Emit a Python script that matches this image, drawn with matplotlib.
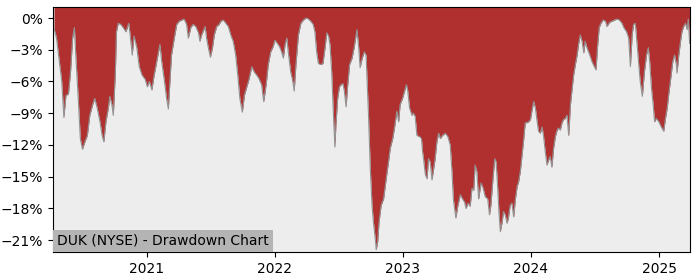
import pandas as pd
import matplotlib
matplotlib.use("Agg")
import matplotlib.pyplot as plt
import matplotlib.dates as mdates
from matplotlib.ticker import MultipleLocator, PercentFormatter

# Drawdown of DUK (NYSE), in percent
dates = [
    "2020-04-11", "2020-04-18", "2020-04-26", "2020-05-03", "2020-05-09", "2020-05-15",
    "2020-05-22", "2020-05-28", "2020-06-03", "2020-06-08", "2020-06-12", "2020-06-19",
    "2020-06-25", "2020-07-01", "2020-07-08", "2020-07-15", "2020-07-22", "2020-07-30",
    "2020-08-05", "2020-08-12", "2020-08-20", "2020-08-26", "2020-08-31", "2020-09-06",
    "2020-09-13", "2020-09-17", "2020-09-23", "2020-09-27", "2020-10-03", "2020-10-06",
    "2020-10-11", "2020-10-18", "2020-10-25", "2020-11-02", "2020-11-10", "2020-11-13",
    "2020-11-20", "2020-11-25", "2020-12-03", "2020-12-10", "2020-12-18", "2020-12-27",
    "2021-01-02", "2021-01-08", "2021-01-15", "2021-01-21", "2021-02-07", "2021-02-12",
    "2021-02-20", "2021-02-26", "2021-03-03", "2021-03-08", "2021-03-12", "2021-03-20",
    "2021-03-27", "2021-04-03", "2021-04-10", "2021-04-17", "2021-04-24", "2021-04-29",
    "2021-05-06", "2021-05-13", "2021-05-20", "2021-05-28", "2021-06-01", "2021-06-06",
    "2021-06-16", "2021-06-20", "2021-06-25", "2021-07-01", "2021-07-07", "2021-07-12",
    "2021-07-19", "2021-07-26", "2021-07-31", "2021-08-07", "2021-08-14", "2021-08-21",
    "2021-08-29", "2021-09-04", "2021-09-11", "2021-09-17", "2021-09-23", "2021-09-30",
    "2021-10-06", "2021-10-12", "2021-10-19", "2021-10-27", "2021-11-03", "2021-11-10",
    "2021-11-16", "2021-11-24", "2021-11-30", "2021-12-07", "2021-12-13", "2021-12-20",
    "2021-12-27", "2022-01-01", "2022-01-08", "2022-01-14", "2022-01-20", "2022-01-25",
    "2022-01-30", "2022-02-04", "2022-02-08", "2022-02-15", "2022-02-21", "2022-02-25",
    "2022-03-02", "2022-03-09", "2022-03-16", "2022-03-23", "2022-03-31", "2022-04-07",
    "2022-04-13", "2022-04-20", "2022-04-25", "2022-04-30", "2022-05-05", "2022-05-12",
    "2022-05-18", "2022-05-24", "2022-05-29", "2022-06-03", "2022-06-07", "2022-06-12",
    "2022-06-17", "2022-06-21", "2022-06-24", "2022-06-29", "2022-07-04", "2022-07-09",
    "2022-07-14", "2022-07-18", "2022-07-23", "2022-07-27", "2022-08-02", "2022-08-09",
    "2022-08-15", "2022-08-23", "2022-08-28", "2022-09-01", "2022-09-07", "2022-09-13",
    "2022-09-18", "2022-09-20", "2022-09-25", "2022-09-30", "2022-10-05", "2022-10-09",
    "2022-10-14", "2022-10-17", "2022-10-21", "2022-10-25", "2022-10-31", "2022-11-07",
    "2022-11-12", "2022-11-16", "2022-11-21", "2022-11-26", "2022-12-03", "2022-12-08",
    "2022-12-15", "2022-12-20", "2022-12-24", "2022-12-31", "2023-01-06", "2023-01-11",
    "2023-01-15", "2023-01-20", "2023-01-27", "2023-01-31", "2023-02-05", "2023-02-10",
    "2023-02-17", "2023-02-23", "2023-02-26", "2023-03-01", "2023-03-06", "2023-03-11",
    "2023-03-15", "2023-03-20", "2023-03-25", "2023-03-30", "2023-04-03", "2023-04-08",
    "2023-04-13", "2023-04-18", "2023-04-24", "2023-05-02", "2023-05-09", "2023-05-16",
    "2023-05-21", "2023-05-25", "2023-06-01", "2023-06-07", "2023-06-14", "2023-06-20",
    "2023-06-26", "2023-06-30", "2023-07-06", "2023-07-12", "2023-07-17", "2023-07-22",
    "2023-07-26", "2023-07-31", "2023-08-05", "2023-08-12", "2023-08-18", "2023-08-24",
    "2023-08-31", "2023-09-05", "2023-09-09", "2023-09-15", "2023-09-20", "2023-09-24",
    "2023-09-28", "2023-10-02", "2023-10-06", "2023-10-11", "2023-10-15", "2023-10-20",
    "2023-10-25", "2023-10-29", "2023-11-03", "2023-11-08", "2023-11-13", "2023-11-18",
    "2023-11-23", "2023-11-27", "2023-12-02", "2023-12-07", "2023-12-11", "2023-12-16",
    "2023-12-21", "2023-12-26", "2023-12-31", "2024-01-04", "2024-01-09", "2024-01-14",
    "2024-01-19", "2024-01-23", "2024-01-28", "2024-02-02", "2024-02-06", "2024-02-11",
    "2024-02-16", "2024-02-21", "2024-02-25", "2024-03-01", "2024-03-06", "2024-03-11",
    "2024-03-16", "2024-03-20", "2024-03-25", "2024-03-30", "2024-04-03", "2024-04-08",
    "2024-04-13", "2024-04-18", "2024-04-23", "2024-04-28", "2024-05-02", "2024-05-07",
    "2024-05-12", "2024-05-16", "2024-05-21", "2024-05-26", "2024-05-31", "2024-06-04",
    "2024-06-09", "2024-06-17", "2024-06-23", "2024-06-30", "2024-07-05", "2024-07-09",
    "2024-07-14", "2024-07-19", "2024-07-25", "2024-08-01", "2024-08-05", "2024-08-13",
    "2024-08-20", "2024-08-26", "2024-09-03", "2024-09-10", "2024-09-17", "2024-09-22",
    "2024-09-30", "2024-10-06", "2024-10-11", "2024-10-16", "2024-10-20", "2024-10-25",
    "2024-10-30", "2024-11-04", "2024-11-08", "2024-11-14", "2024-11-20", "2024-11-26",
    "2024-12-01", "2024-12-05", "2024-12-10", "2024-12-15", "2024-12-19", "2024-12-24",
    "2024-12-31", "2025-01-07", "2025-01-14", "2025-01-19", "2025-01-24", "2025-01-28",
    "2025-02-02", "2025-02-09", "2025-02-14", "2025-02-19", "2025-02-21", "2025-02-26",
    "2025-03-03", "2025-03-07", "2025-03-12", "2025-03-17", "2025-03-22", "2025-03-25",
    "2025-03-29",
]
drawdown = [
    -1.0, -1.9, -4.1, -6.0, -9.4, -7.3, -7.2, -5.1, -1.9, -0.9, -3.5, -7.6,
    -11.4, -12.4, -11.7, -11.1, -9.2, -8.2, -7.6, -8.5, -9.8, -11.1, -11.7, -9.8,
    -8.5, -7.4, -8.2, -9.2, -5.1, -1.3, -0.5, -0.6, -0.9, -1.3, -0.5, -1.3,
    -3.5, -1.7, -2.8, -4.6, -5.4, -5.8, -6.5, -6.0, -6.8, -5.5, -2.5, -4.1,
    -6.0, -7.6, -8.6, -5.7, -3.5, -1.9, -0.6, -0.3, -0.2, -0.1, -0.6, -1.9,
    -0.9, -0.6, -0.8, -1.4, -2.2, -1.6, -0.8, -1.9, -2.8, -3.7, -2.8, -1.6,
    -0.8, -0.6, -0.3, -0.2, -0.5, -0.8, -1.7, -2.2, -3.5, -5.4, -7.6, -8.9,
    -7.3, -6.6, -5.8, -4.6, -5.1, -5.4, -5.7, -6.3, -7.9, -6.3, -4.4, -3.2,
    -2.7, -2.1, -2.4, -2.7, -3.2, -3.8, -2.5, -1.9, -3.2, -5.1, -6.0, -6.9,
    -4.4, -1.6, -0.5, -0.2, 0.0, -0.1, -0.3, -0.6, -1.3, -3.2, -4.3, -4.4,
    -4.3, -2.8, -1.4, -1.7, -2.5, -5.1, -9.2, -12.2, -10.1, -7.6, -6.5, -6.3,
    -6.2, -6.9, -8.4, -6.6, -4.4, -3.8, -2.8, -1.1, -2.8, -4.7, -3.8, -3.2,
    -3.5, -5.1, -9.2, -14.2, -17.7, -19.3, -20.8, -21.9, -21.2, -19.3, -17.7, -17.1,
    -15.8, -14.8, -13.6, -12.3, -11.4, -10.4, -8.8, -9.8, -8.2, -7.6, -6.9, -6.3,
    -6.9, -8.5, -9.2, -9.0, -9.3, -11.1, -11.2, -11.4, -12.6, -13.3, -14.8, -15.2,
    -13.3, -13.6, -15.3, -14.2, -13.3, -11.7, -10.9, -11.4, -11.1, -10.9, -11.2, -12.0,
    -14.5, -17.1, -18.9, -17.7, -16.7, -17.1, -17.4, -18.0, -17.5, -17.8, -16.1, -16.3,
    -13.9, -14.5, -17.1, -15.6, -16.1, -16.9, -17.1, -18.6, -17.7, -15.2, -13.3, -13.6,
    -15.8, -18.3, -20.2, -19.3, -18.3, -18.6, -19.4, -18.9, -17.7, -17.5, -18.8, -17.1,
    -15.9, -15.5, -14.5, -12.9, -11.7, -9.9, -9.9, -9.8, -9.6, -8.8, -7.9, -8.5,
    -9.8, -10.7, -10.9, -10.3, -11.1, -12.6, -13.9, -13.4, -13.1, -14.1, -12.3, -11.2,
    -10.6, -10.4, -10.6, -9.9, -9.6, -9.5, -9.2, -11.1, -8.2, -6.6, -5.4, -4.4,
    -3.5, -2.5, -1.6, -2.2, -3.3, -2.2, -2.8, -3.5, -4.1, -4.6, -4.9, -2.8,
    -0.9, -0.5, -0.2, -0.3, -0.8, -0.4, -0.3, -0.2, -0.1, -0.2, -0.5, -0.9,
    -1.3, -1.9, -4.6, -1.6, -0.6, -0.5, -2.5, -4.6, -6.0, -7.4, -5.1, -3.5,
    -2.8, -4.1, -6.6, -8.2, -9.8, -9.5, -9.8, -10.3, -10.7, -9.5, -8.5, -7.3,
    -6.0, -4.1, -3.5, -4.4, -5.2, -3.5, -2.2, -1.3, -0.8, -0.5, -1.1, -0.1,
    -2.4,
]

title = "DUK (NYSE) - Drawdown Chart"

df = pd.DataFrame({"date": pd.to_datetime(dates), "dd": drawdown})

fig = plt.figure(figsize=(7, 2.8), dpi=100)
ax = fig.add_axes([0.0757, 0.1, 0.91, 0.875])
ax.set_facecolor("#ededed")

ymin = df["dd"].min() * 1.01
ymax = 1.04

ax.fill_between(df["date"], df["dd"], ymax, color="#b03030", linewidth=0)
ax.plot(df["date"], df["dd"], color="#939393", linewidth=0.8)

ax.set_xlim(df["date"].iloc[0] - pd.Timedelta(days=3), df["date"].iloc[-1] + pd.Timedelta(days=1))
ax.set_ylim(ymin, ymax)

ax.yaxis.set_major_locator(MultipleLocator(3))
ax.yaxis.set_major_formatter(PercentFormatter(decimals=0))
ax.xaxis.set_major_locator(mdates.YearLocator())
ax.xaxis.set_major_formatter(mdates.DateFormatter("%Y"))

# label box sits flush in the lower-left corner of the axes
ax.annotate(title, xy=(0, 0), xycoords="axes fraction", xytext=(3, 3),
            textcoords="offset points", fontsize=10, ha="left", va="bottom",
            bbox=dict(facecolor="#b4b4b4", edgecolor="none", pad=3))

fig.savefig("out.png", dpi=100)
